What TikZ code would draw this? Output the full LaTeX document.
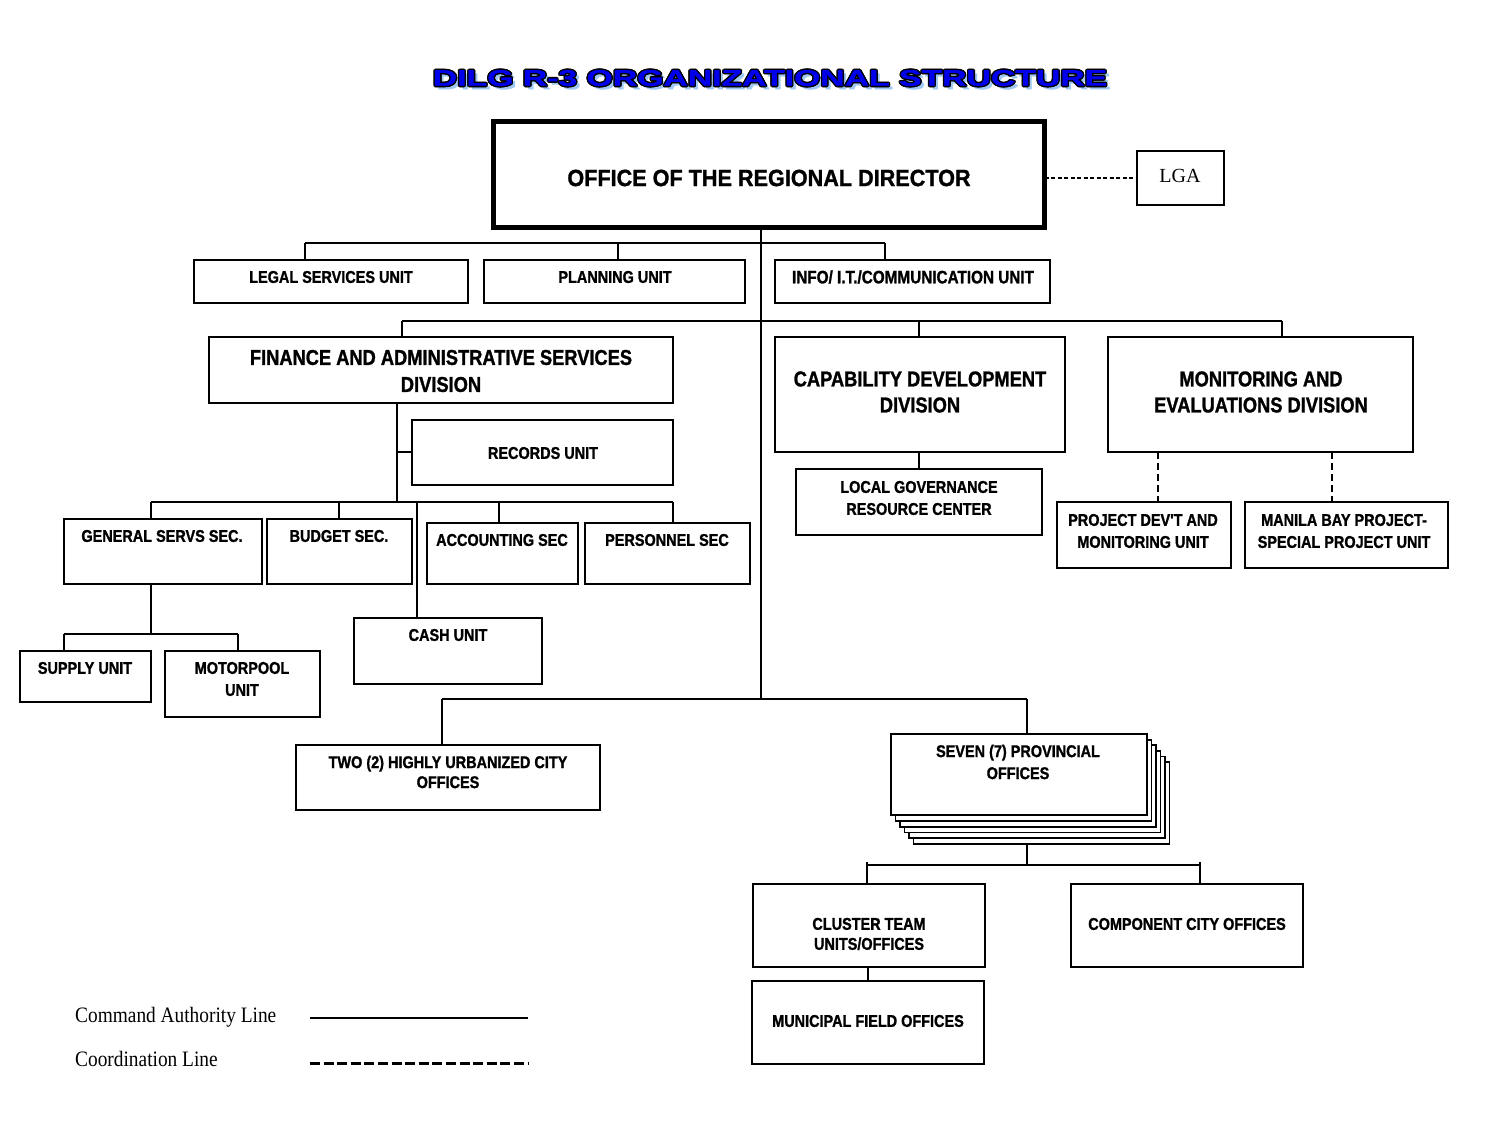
\documentclass[tikz,border=0pt]{standalone}
\usepackage{fontspec}
\setmainfont{Liberation Sans}
\newfontfamily\nb{Liberation Sans}[FakeStretch=0.85,BoldFeatures={FakeBold=1.2}]
\newfontfamily\nbw{Liberation Sans}[FakeStretch=0.92,BoldFeatures={FakeBold=1.2}]
\newfontfamily\ttl{Liberation Sans}[FakeStretch=1.5,BoldFeatures={FakeBold=1.5}]
\newfontfamily\lgf{Liberation Serif}[FakeStretch=0.88]
\newfontfamily\lgaf{Liberation Serif}
\usetikzlibrary{calc}
\definecolor{ttlblue}{RGB}{0,0,235}
\definecolor{ttlshadow}{RGB}{160,200,245}
\newcommand\mkbox[6][]{\node[box,minimum width={(#5)-(#3)},minimum height={(#6)-(#4)},#1] (#2) at (#3,#4) {};}
\newcommand\ttltext{DILG R-3 ORGANIZATIONAL STRUCTURE}
\begin{document}
\begin{tikzpicture}[x=1pt,y=-1pt,
  box/.style={draw,line width=1.8pt,fill=white,inner sep=0pt,outer sep=0pt,anchor=north west},
  sm/.style={font=\nb\bfseries\fontsize{17}{22}\selectfont,align=center,inner sep=0pt},
  bg/.style={font=\nb\bfseries\fontsize{21.5}{27}\selectfont,align=center,inner sep=0pt},
  cmd/.style={line width=1.6pt},
  coordl/.style={line width=2.5pt,dash pattern=on 7pt off 4pt},
  lgadash/.style={line width=1.4pt,dash pattern=on 4pt off 2.5pt},
  ttlfont/.style={font=\ttl\bfseries\fontsize{22.5}{26}\selectfont,inner sep=0pt}]
\useasboundingbox (0,0) rectangle (1512,1127);
\fill[white] (0,0) rectangle (1512,1127);

% ---- title ----
\coordinate (tc) at (770,78);
\node[ttlfont,text=ttlshadow] (title-s) at ($(tc)+(3.5,3.5)$) {\ttltext};
\foreach \a in {0,45,...,315}{
  \node[ttlfont,text=black] (title-o\a) at ($(tc)+(\a:1.4)$) {\ttltext};
}
\node[ttlfont,text=ttlblue] (title) at (tc) {\ttltext};

% ---- boxes ----
\mkbox[line width=5pt]{ord}{493.5}{121.5}{1044.5}{227.5}
\mkbox[line width=1.4pt]{lga}{1137}{151}{1224}{205}
\mkbox{legal}{194}{260}{468}{303}
\mkbox{plan}{484}{260}{745}{303}
\mkbox{info}{775}{260}{1050}{303}
\mkbox{fas}{209}{337}{673}{403}
\mkbox{cdd}{775}{337}{1065}{452}
\mkbox{med}{1108}{337}{1413}{452}
\mkbox{lgrc}{796}{469}{1042}{535}
\mkbox{pdmu}{1057}{502}{1231}{568}
\mkbox{mbp}{1245}{502}{1448}{568}
\mkbox{rec}{412}{420}{673}{485}
\mkbox{gss}{64}{519}{262}{584}
\mkbox{bud}{267}{519}{412}{584}
\mkbox{acc}{427}{523}{578}{584}
\mkbox{pers}{585}{523}{750}{584}
\mkbox{cash}{354}{618}{542}{684}
\mkbox{sup}{20}{651}{151}{702}
\mkbox{mot}{165}{651}{320}{717}
\mkbox{huc}{296}{745}{600}{810}
\foreach \k in {5,4,3,2,1}{
  \mkbox{prov\k}{891+4.5*\k}{734+5.6*\k}{1147+4.5*\k}{815+5.8*\k}
}
\mkbox{prov}{891}{734}{1147}{815}
\mkbox{clu}{753}{884}{985}{967}
\mkbox{comp}{1071}{884}{1303}{967}
\mkbox{muni}{752}{981}{984}{1064}

% ---- texts ----
\node[font=\nbw\bfseries\fontsize{23.5}{26}\selectfont,inner sep=0pt] (ord-t) at (769,178) {OFFICE OF THE REGIONAL DIRECTOR};
\node[font=\lgaf\fontsize{20}{24}\selectfont,inner sep=0pt] (lga-t) at (1180,176) {LGA};
\node[sm] (legal-t) at (331,277) {LEGAL SERVICES UNIT};
\node[sm] (plan-t) at (615,277) {PLANNING UNIT};
\node[sm,font=\nb\bfseries\fontsize{18}{22}\selectfont] (info-t) at (913,277) {INFO/ I.T./COMMUNICATION UNIT};
\node[bg] (fas-t) at (441,371) {FINANCE AND ADMINISTRATIVE SERVICES\\DIVISION};
\node[bg,font=\nb\bfseries\fontsize{21.5}{26}\selectfont] (cdd-t) at (920,392) {CAPABILITY DEVELOPMENT\\DIVISION};
\node[bg,font=\nb\bfseries\fontsize{21.5}{26}\selectfont] (med-t) at (1261,392) {MONITORING AND\\EVALUATIONS DIVISION};
\node[sm] (rec-t) at (543,453) {RECORDS UNIT};
\node[sm] (lgrc-t) at (919,498) {LOCAL GOVERNANCE\\RESOURCE CENTER};
\node[sm] (pdmu-t) at (1143,531) {PROJECT DEV'T AND\\MONITORING UNIT};
\node[sm] (mbp-t) at (1344,531) {MANILA BAY PROJECT-\\SPECIAL PROJECT UNIT};
\node[sm] (gss-t) at (162,536) {GENERAL SERVS SEC.};
\node[sm] (bud-t) at (339,536) {BUDGET SEC.};
\node[sm] (acc-t) at (502,540) {ACCOUNTING SEC};
\node[sm] (pers-t) at (667,540) {PERSONNEL SEC};
\node[sm] (cash-t) at (448,635) {CASH UNIT};
\node[sm] (sup-t) at (85,668) {SUPPLY UNIT};
\node[sm] (mot-t) at (242,679) {MOTORPOOL\\UNIT};
\node[sm,font=\nb\bfseries\fontsize{17}{20}\selectfont] (huc-t) at (448,772) {TWO (2) HIGHLY URBANIZED CITY\\OFFICES};
\node[sm] (prov-t) at (1018,762) {SEVEN (7) PROVINCIAL\\OFFICES};
\node[sm,font=\nb\bfseries\fontsize{17}{20}\selectfont] (clu-t) at (869,934) {CLUSTER TEAM\\UNITS/OFFICES};
\node[sm] (comp-t) at (1187,924) {COMPONENT CITY OFFICES};
\node[sm] (muni-t) at (868,1021) {MUNICIPAL FIELD OFFICES};

% ---- connectors ----
\draw[lgadash] (ord.east |- lga.west) -- (lga.west);
\coordinate (tr) at (761,699);
\draw[cmd] (ord.south -| tr) -- (tr);
% row 1
\coordinate (r1L) at (305,243);
\coordinate (r1M) at (618,243);
\coordinate (r1R) at (885,243);
\draw[cmd] (r1L) -- (r1R);
\draw[cmd] (r1L) -- (legal.north -| r1L);
\draw[cmd] (r1M) -- (plan.north -| r1M);
\draw[cmd] (r1R) -- (info.north -| r1R);
% row 2
\coordinate (r2L) at (402,321);
\coordinate (r2M) at (919,321);
\coordinate (r2R) at (1282,321);
\draw[cmd] (r2L) -- (r2R);
\draw[cmd] (r2L) -- (fas.north -| r2L);
\draw[cmd] (r2M) -- (cdd.north -| r2M);
\draw[cmd] (r2R) -- (med.north -| r2R);
\draw[cmd] (cdd.south -| r2M) -- (lgrc.north -| r2M);
\coordinate (m1) at (1158,452);
\coordinate (m2) at (1332,452);
\draw[coordl] (med.south -| m1) -- (pdmu.north -| m1);
\draw[coordl] (med.south -| m2) -- (mbp.north -| m2);
% FAS subtree
\coordinate (f1) at (397,452);
\coordinate (f2) at (397,502);
\draw[cmd] (fas.south -| f1) -- (f2);
\draw[cmd] (f1) -- (rec.west |- f1);
\coordinate (r3L) at (151,502);
\coordinate (r3B) at (339,502);
\coordinate (r3C) at (417,502);
\coordinate (r3A) at (499,502);
\coordinate (r3R) at (673,502);
\draw[cmd] (r3L) -- (r3R);
\draw[cmd] (r3L) -- (gss.north -| r3L);
\draw[cmd] (r3B) -- (bud.north -| r3B);
\draw[cmd] (r3A) -- (acc.north -| r3A);
\draw[cmd] (r3R) -- (pers.north -| r3R);
\draw[cmd] (r3C) -- (cash.north -| r3C);
\coordinate (g1) at (151,634);
\coordinate (gL) at (64,634);
\coordinate (gR) at (238,634);
\draw[cmd] (gss.south -| g1) -- (g1);
\draw[cmd] (gL) -- (gR);
\draw[cmd] (gL) -- (sup.north -| gL);
\draw[cmd] (gR) -- (mot.north -| gR);
% bottom
\coordinate (hL) at (442,699);
\coordinate (hR) at (1027,699);
\draw[cmd] (hL) -- (hR);
\draw[cmd] (hL) -- (huc.north -| hL);
\draw[cmd] (hR) -- (prov.north -| hR);
\coordinate (pB) at (1027,865);
\coordinate (cL) at (867,865);
\coordinate (cR) at (1200,865);
\draw[cmd] (prov5.south -| pB) -- (pB);
\draw[cmd,line width=2.2pt] (cL) -- (cR);
\draw[cmd] ([yshift=3pt]cL) -- (clu.north -| cL);
\draw[cmd] ([yshift=3pt]cR) -- (comp.north -| cR);
\draw[cmd] (clu.south -| muni.north) -- (muni.north);

% ---- legend ----
\node[font=\lgf\fontsize{22}{26}\selectfont,anchor=west,inner sep=0pt] (lg1) at (75,1017) {Command Authority Line};
\node[font=\lgf\fontsize{22}{26}\selectfont,anchor=west,inner sep=0pt] (lg2) at (75,1059) {Coordination Line};
\coordinate (l1a) at (310,1018);
\coordinate (l1b) at (528,1018);
\coordinate (l2a) at (310,1063);
\coordinate (l2b) at (528,1063);
\draw[line width=1.8pt] (l1a) -- (l1b);
\draw[line width=3pt,dash pattern=on 10pt off 3.6pt] (l2a) -- (l2b);
\end{tikzpicture}
\end{document}
